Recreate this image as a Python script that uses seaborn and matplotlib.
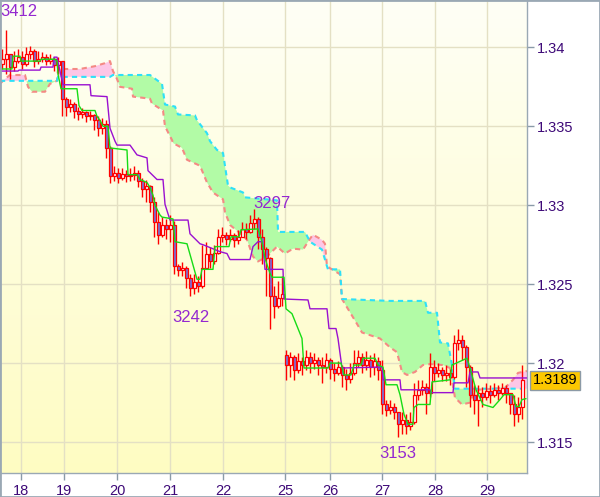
import numpy as np
import pandas as pd
import matplotlib
matplotlib.use("Agg")
import matplotlib.pyplot as plt
import matplotlib.transforms as mtransforms
from matplotlib.patches import Rectangle
from matplotlib.colors import LinearSegmentedColormap
import seaborn as sns

# ---------------- data ----------------
close = [1.33925, 1.33956, 1.33875, 1.33913, 1.33938, 1.33894, 1.33956, 1.33975, 1.33913, 1.33925,
         1.33938, 1.33913, 1.33925, 1.33888, 1.33913, 1.33675, 1.33625, 1.33644, 1.33600, 1.33581,
         1.33588, 1.33563, 1.33569, 1.33538, 1.33488, 1.33513, 1.33363, 1.33188, 1.33206, 1.33175,
         1.33200, 1.33188, 1.33194, 1.33206, 1.33156, 1.33100, 1.33125, 1.33019, 1.32894, 1.32813,
         1.32875, 1.32850, 1.32875, 1.32613, 1.32588, 1.32600, 1.32538, 1.32475, 1.32513, 1.32488,
         1.32600, 1.32688, 1.32644, 1.32700, 1.32800, 1.32813, 1.32788, 1.32813, 1.32781, 1.32800,
         1.32850, 1.32831, 1.32888, 1.32913, 1.32800, 1.32725, 1.32663, 1.32425, 1.32363, 1.32413,
         1.32438, 1.31988, 1.32038, 1.31956, 1.32013, 1.31988, 1.32038, 1.32000, 1.32019, 1.31988,
         1.31975, 1.32019, 1.31963, 1.31938, 1.31975, 1.31925, 1.31900, 1.31938, 1.32000, 1.32038,
         1.31988, 1.32019, 1.31975, 1.32013, 1.31956, 1.31738, 1.31706, 1.31725, 1.31688, 1.31613,
         1.31638, 1.31600, 1.31625, 1.31800, 1.31831, 1.31850, 1.31813, 1.31975, 1.31938, 1.31956,
         1.31925, 1.31938, 1.31913, 1.32125, 1.32144, 1.32100, 1.31975, 1.31800, 1.31769, 1.31813,
         1.31788, 1.31825, 1.31800, 1.31831, 1.31813, 1.31844, 1.31813, 1.31738, 1.31675, 1.31725,
         1.31890]
high = [1.33988, 1.34113, 1.33956, 1.33975, 1.33988, 1.33975, 1.34000, 1.34006, 1.33988, 1.33975,
        1.33969, 1.33956, 1.33956, 1.33938, 1.33938, 1.33913, 1.33688, 1.33675, 1.33656, 1.33625,
        1.33613, 1.33600, 1.33600, 1.33581, 1.33563, 1.33550, 1.33538, 1.33375, 1.33250, 1.33238,
        1.33238, 1.33225, 1.33238, 1.33250, 1.33225, 1.33175, 1.33163, 1.33131, 1.33050, 1.32956,
        1.32925, 1.32913, 1.32938, 1.32900, 1.32625, 1.32638, 1.32613, 1.32563, 1.32563, 1.32550,
        1.32750, 1.32769, 1.32738, 1.32750, 1.32850, 1.32863, 1.32831, 1.32850, 1.32825, 1.32844,
        1.32894, 1.32888, 1.32938, 1.32975, 1.32925, 1.32850, 1.32738, 1.32675, 1.32488, 1.32519,
        1.32550, 1.32081, 1.32069, 1.32050, 1.32063, 1.32038, 1.32081, 1.32069, 1.32063, 1.32038,
        1.32038, 1.32063, 1.32031, 1.32000, 1.32013, 1.31988, 1.31963, 1.32000, 1.32081, 1.32081,
        1.32063, 1.32075, 1.32050, 1.32063, 1.32038, 1.32019, 1.31769, 1.31769, 1.31750, 1.31688,
        1.31688, 1.31675, 1.31688, 1.31875, 1.31894, 1.31894, 1.31875, 1.32063, 1.32019, 1.32000,
        1.31975, 1.31988, 1.31963, 1.32175, 1.32219, 1.32175, 1.32113, 1.31988, 1.31863, 1.31863,
        1.31850, 1.31875, 1.31863, 1.31875, 1.31863, 1.31875, 1.31863, 1.31813, 1.31800, 1.31788,
        1.31988]
low = [1.33863, 1.33831, 1.33800, 1.33850, 1.33900, 1.33863, 1.33881, 1.33925, 1.33875, 1.33894,
       1.33906, 1.33888, 1.33894, 1.33850, 1.33831, 1.33563, 1.33563, 1.33588, 1.33550, 1.33538,
       1.33550, 1.33525, 1.33538, 1.33475, 1.33438, 1.33450, 1.33300, 1.33144, 1.33156, 1.33138,
       1.33163, 1.33150, 1.33156, 1.33163, 1.33113, 1.33050, 1.33019, 1.32956, 1.32800, 1.32756,
       1.32800, 1.32788, 1.32769, 1.32563, 1.32550, 1.32550, 1.32475, 1.32425, 1.32438, 1.32450,
       1.32475, 1.32600, 1.32600, 1.32625, 1.32688, 1.32769, 1.32750, 1.32775, 1.32738, 1.32756,
       1.32800, 1.32788, 1.32825, 1.32850, 1.32725, 1.32625, 1.32425, 1.32219, 1.32288, 1.32350,
       1.32363, 1.31894, 1.31913, 1.31894, 1.31938, 1.31925, 1.31956, 1.31938, 1.31963, 1.31925,
       1.31875, 1.31938, 1.31900, 1.31888, 1.31925, 1.31850, 1.31831, 1.31875, 1.31925, 1.31975,
       1.31938, 1.31956, 1.31913, 1.31925, 1.31894, 1.31675, 1.31663, 1.31675, 1.31644, 1.31531,
       1.31550, 1.31550, 1.31575, 1.31613, 1.31769, 1.31800, 1.31675, 1.31788, 1.31888, 1.31913,
       1.31888, 1.31888, 1.31863, 1.31900, 1.32081, 1.32019, 1.31850, 1.31725, 1.31675, 1.31600,
       1.31725, 1.31769, 1.31750, 1.31788, 1.31769, 1.31800, 1.31750, 1.31675, 1.31600, 1.31625,
       1.31644]
first_open = 1.33894
gap_opens = {71: 1.32050}   # Monday opening gap

tenkan_x = [-0.5, 2.5, 2.75, 4.5, 4.75, 9.5, 9.75, 13.25, 13.75, 14, 14.75, 18.75, 19.25, 20, 23.25,
            23.75, 24.5, 25.25, 26.5, 27, 31.25, 31.5, 33.75, 34.5, 36.25, 37, 37.75, 38.25, 39.5, 40,
            42.75, 43.25, 46.25, 47.5, 48.75, 49.5, 50, 52.75, 53.25, 56.75, 57.25, 59.25, 59.75, 64, 65,
            65.75, 67, 67.5, 70.5, 71, 72.5, 74, 75, 75.5, 81.5, 82, 84.75, 85.5, 87.25, 88,
            89.75, 90.25, 93.25, 94, 95.25, 96, 98.75, 99.5, 100.5, 101.5, 102.75, 103, 104, 107, 107.5,
            112, 112.5, 116.25, 117, 118.5, 120.25, 122.75, 124.5, 125.5, 127.75, 128.5, 129.25, 130, 131]
tenkan_y = [1.33863, 1.33863, 1.33944, 1.33944, 1.33913, 1.33913, 1.33925, 1.33925, 1.33913, 1.33831,
            1.33738, 1.33738, 1.33631, 1.33600, 1.33600, 1.33563, 1.33538, 1.33500, 1.33500, 1.33363,
            1.33350, 1.33194, 1.33194, 1.33163, 1.33144, 1.33113, 1.33063, 1.33000, 1.32938, 1.32925,
            1.32913, 1.32769, 1.32756, 1.32644, 1.32531, 1.32531, 1.32594, 1.32594, 1.32738, 1.32738,
            1.32800, 1.32800, 1.32844, 1.32850, 1.32769, 1.32663, 1.32569, 1.32544, 1.32544, 1.32344,
            1.32313, 1.32219, 1.32156, 1.31969, 1.31969, 1.32000, 1.32000, 1.31925, 1.31925, 1.31988,
            1.31988, 1.32031, 1.32031, 1.31988, 1.31975, 1.31863, 1.31863, 1.31800, 1.31675, 1.31613,
            1.31613, 1.31719, 1.31738, 1.31738, 1.31881, 1.31894, 1.31988, 1.32031, 1.31969, 1.31831,
            1.31738, 1.31719, 1.31769, 1.31800, 1.31800, 1.31725, 1.31725, 1.31769, 1.31775]

kijun_x = [-0.5, 4, 4.25, 9.5, 9.75, 12.75, 13, 13.75, 15.25, 22, 22.25, 26.25, 27, 28.25, 28.75,
           32, 33.75, 36.25, 36.5, 38.75, 40.25, 40.75, 42, 46.5, 47, 49.5, 50.25, 54.5, 56.25, 57,
           62, 62.75, 64, 65, 65.25, 65.75, 70.25, 70.5, 76.5, 77, 81.25, 81.75, 83.5, 84, 85,
           95, 95.25, 99.5, 99.75, 107, 107.25, 112.75, 113, 116.5, 117, 119, 119.5, 131.25]
kijun_y = [1.33850, 1.33850, 1.33856, 1.33856, 1.33875, 1.33875, 1.33938, 1.33938, 1.33763, 1.33763,
           1.33694, 1.33688, 1.33488, 1.33406, 1.33381, 1.33381, 1.33319, 1.33300, 1.33219, 1.33163,
           1.33163, 1.33006, 1.32906, 1.32906, 1.32819, 1.32756, 1.32750, 1.32706, 1.32694, 1.32656,
           1.32656, 1.32738, 1.32769, 1.32769, 1.32738, 1.32594, 1.32594, 1.32406, 1.32400, 1.32344,
           1.32344, 1.32219, 1.32219, 1.32156, 1.31969, 1.31975, 1.31894, 1.31894, 1.31831, 1.31831,
           1.31813, 1.31813, 1.31875, 1.31875, 1.31944, 1.31944, 1.31906, 1.31906]

span_a_x = [-0.5, 13.75, 14, 27, 27.75, 37, 40, 40.75, 43.25, 44, 48.25, 48.75, 51.25, 52, 53.75,
            55.25, 56.5, 57, 60.25, 60.75, 68.75, 69, 75.75, 77, 80, 81.25, 81.5, 84.5, 85, 97,
            105.75, 106.5, 108.75, 109.5, 111.5, 112.5, 113.25, 131.25]
span_a_y = [1.33788, 1.33788, 1.33813, 1.33813, 1.33825, 1.33825, 1.33769, 1.33638, 1.33625, 1.33575,
            1.33569, 1.33538, 1.33456, 1.33406, 1.33350, 1.33331, 1.33125, 1.33113, 1.33081, 1.33050,
            1.33031, 1.32831, 1.32831, 1.32769, 1.32719, 1.32613, 1.32594, 1.32594, 1.32406, 1.32394,
            1.32394, 1.32319, 1.32319, 1.32131, 1.32125, 1.31988, 1.31838, 1.31838]

span_b_x = [-0.5, 0.75, 2, 5.75, 6.5, 7.5, 10.75, 12, 13.75, 14, 19.5, 23.25, 25.75, 27, 27.75,
            28.75, 29.5, 32.5, 32.75, 37, 37.5, 40.25, 40.75, 42.5, 42.75, 45, 46.25, 49.5, 51.25, 52.75,
            53.75, 55.25, 55.75, 57, 60, 61.25, 62.75, 64, 66.25, 68.75, 70.75, 72.75, 75.25, 77, 77.75,
            80, 80.75, 81.25, 84.5, 85, 89, 90, 94.5, 97, 98.75, 100, 101.25, 103.25, 105.25, 107,
            110.25, 112, 113.25, 115, 117, 117.75, 119, 125.75, 127.75, 129, 131.25]
span_b_y = [1.33769, 1.33800, 1.33825, 1.33825, 1.33750, 1.33719, 1.33719, 1.33769, 1.33788, 1.33863,
            1.33863, 1.33881, 1.33900, 1.33913, 1.33850, 1.33800, 1.33750, 1.33738, 1.33688, 1.33675,
            1.33644, 1.33600, 1.33500, 1.33413, 1.33394, 1.33363, 1.33288, 1.33250, 1.33144, 1.33081,
            1.33063, 1.33038, 1.32956, 1.32875, 1.32813, 1.32781, 1.32675, 1.32644, 1.32675, 1.32738,
            1.32694, 1.32725, 1.32719, 1.32788, 1.32813, 1.32781, 1.32756, 1.32613, 1.32563, 1.32406,
            1.32238, 1.32194, 1.32156, 1.32100, 1.32069, 1.31944, 1.31925, 1.31944, 1.31988, 1.31994,
            1.31988, 1.31969, 1.31781, 1.31738, 1.31750, 1.31800, 1.31831, 1.31844, 1.31894, 1.31938,
            1.31950]

day_tick_pos = [4.75, 15.5, 28.75, 42, 55.25, 70.75, 82, 95, 108.25, 121.25]
day_tick_labels = ["18", "19", "20", "21", "22", "25", "26", "27", "28", "29"]
price_ticks = [1.315, 1.32, 1.325, 1.33, 1.335, 1.34]
price_tick_labels = ["1.315", "1.32", "1.325", "1.33", "1.335", "1.34"]

extreme_labels = ["3412", "3297", "3242", "3153"]
extreme_x = [4.25, 67.5, 47.25, 99]
extreme_y = [1.34225, 1.33013, 1.32291, 1.31425]

last_price = 1.3189
x_range = (-0.5, 131.25)
y_range = (1.31304, 1.3430)

# ---------------- style ----------------
sns.set_theme(style="white")
plt.rcParams['font.family'] = ['Liberation Sans', 'DejaVu Sans']

TXT = '#3e0a78'
fig = plt.figure(figsize=(6.0, 4.97), dpi=100)
fig.patch.set_facecolor('white')
ax = fig.add_axes([0.0, 1 - 473 / 497, 527 / 600, 473 / 497])

# background gradient
bg = LinearSegmentedColormap.from_list('bg', ['#fefcc2', '#fffff6'])
grad = np.linspace(0, 1, 256).reshape(-1, 1)
ax.imshow(grad, extent=[x_range[0], x_range[1], y_range[0], y_range[1]],
          origin='lower', aspect='auto', cmap=bg, zorder=0, interpolation='bilinear')

# cloud
xu = np.array(sorted(set(span_a_x) | set(span_b_x)))
A = np.interp(xu, span_a_x, span_a_y)
B = np.interp(xu, span_b_x, span_b_y)
ax.fill_between(xu, A, B, where=A >= B, interpolate=True, color='#b2fba6', lw=0, zorder=1)
ax.fill_between(xu, A, B, where=B > A, interpolate=True, color='#fdc6e6', lw=0, zorder=1)

sns.lineplot(x=span_b_x, y=span_b_y, ax=ax, color='#f48a84', lw=1.5,
             estimator=None, sort=False, zorder=2)
sns.lineplot(x=span_a_x, y=span_a_y, ax=ax, color='#2ee0f8', lw=1.5,
             estimator=None, sort=False, zorder=2)
for ln in ax.lines[-2:]:
    ln.set_linestyle((0, (2.5, 2.0)))

# candles
open_ = [first_open] + close[:-1]
for i, v in gap_opens.items():
    open_[i] = v
df = pd.DataFrame({'bar': np.arange(len(close)), 'open': open_, 'high': high,
                   'low': low, 'close': close})
bottoms = df[['open', 'close']].min(axis=1)
heights = (df['close'] - df['open']).abs().clip(lower=0.00003)
faces = np.where(df['close'] >= df['open'], '#ffffff', '#7a70d8')
ax.vlines(df['bar'], df['low'], df['high'], color='#ff0000', lw=1.0, zorder=4)
ax.bar(df['bar'], heights, bottom=bottoms, width=0.75, color=faces,
       edgecolor='#ff0000', linewidth=0.9, zorder=5)

# tenkan / kijun
sns.lineplot(x=kijun_x, y=kijun_y, ax=ax, color='#9a10d0', lw=1.0,
             estimator=None, sort=False, zorder=6)
sns.lineplot(x=tenkan_x, y=tenkan_y, ax=ax, color='#16dc16', lw=1.0,
             estimator=None, sort=False, zorder=6)

# extreme labels
for t, xx, yy in zip(extreme_labels, extreme_x, extreme_y):
    ax.text(xx, yy, t, color='#9428d0', fontsize=12, ha='center', va='center', zorder=7)

# axes
ax.set_xlim(*x_range)
ax.set_ylim(*y_range)
ax.set_xticks(day_tick_pos)
ax.set_xticklabels(day_tick_labels)
ax.yaxis.tick_right()
ax.set_yticks(price_ticks)
ax.set_yticklabels(price_tick_labels)
ax.grid(True, color='#e4e0c4', lw=1.0)
ax.set_axisbelow(True)
for g in ax.get_xgridlines() + ax.get_ygridlines():
    g.set_zorder(0.5)
ax.tick_params(axis='y', which='both', right=True, left=False, length=5, width=1,
               color='#8a9aa8', labelcolor=TXT, labelsize=10.5, pad=2)
ax.tick_params(axis='x', which='both', bottom=True, length=5, width=1,
               color='#8a9aa8', labelcolor=TXT, labelsize=10.5, pad=3)
for s in ['top', 'left']:
    ax.spines[s].set_visible(False)
for s in ['right', 'bottom']:
    ax.spines[s].set_color('#9aa8b4')
    ax.spines[s].set_linewidth(1.0)
ax.set_xlabel('')
ax.set_ylabel('')

# last price box
trans = mtransforms.blended_transform_factory(ax.transAxes, ax.transData)
ax.text(1.0 + 6 / 527, last_price, f"{last_price:.4f}", transform=trans, ha='left', va='center',
        fontsize=10.5, color='black', zorder=10, clip_on=False,
        bbox=dict(boxstyle='square,pad=0.18', facecolor='#fcc800', edgecolor='#8c9aa6', lw=1))

# outer frame
fig.patches.append(Rectangle((0, 0), 1, 1, transform=fig.transFigure, fill=False,
                             edgecolor='#9aa8b4', lw=2, zorder=20))

fig.savefig('out.png', dpi=100)
